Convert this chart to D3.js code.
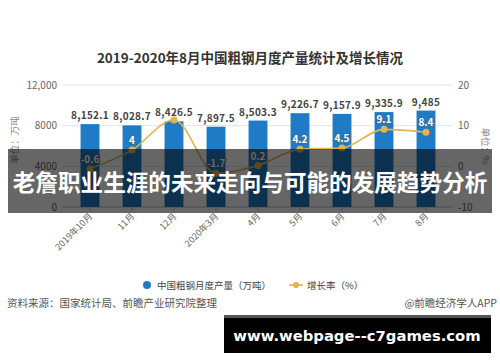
<!DOCTYPE html>
<html>
<head>
<meta charset="utf-8">
<script src="https://cdn.jsdelivr.net/npm/d3@7/dist/d3.min.js"></script>
<style>
  body { margin: 0; background: #fff; }
  svg { display: block; font-family: "Noto Sans CJK SC", "Noto Sans", sans-serif; }
</style>
</head>
<body>
<div id="chart"></div>
<script>
// data
var months = ['2019年10月', '11月', '12月', '2020年3月', '4月', '5月', '6月', '7月', '8月'];
var output = [8152.1, 8028.7, 8426.5, 7897.5, 8503.3, 9226.7, 9157.9, 9335.9, 9485];
var growth = [-0.6, 4, 11.4, -1.7, 0.2, 4.2, 4.5, 9.1, 8.4];
var leftTicks = [0, 4000, 8000, 12000];
var rightTicks = [-10, 0, 10, 20];

var width = 500, height = 362;

var svg = d3.select('#chart').append('svg')
  .attr('width', width)
  .attr('height', height);

var x = d3.scaleBand()
  .domain(months)
  .range([69, 447])
  .paddingInner(0.55)
  .paddingOuter(0.275);

var yL = d3.scaleLinear().domain([0, 12000]).range([207, 85]);
var yR = d3.scaleLinear().domain([-10, 20]).range([207, 85]);

// title
svg.append('text')
  .attr('x', 250).attr('y', 63)
  .attr('text-anchor', 'middle')
  .style('font-size', '13.5px').style('font-weight', 'bold')
  .attr('fill', '#333')
  .text('2019-2020年8月中国粗钢月度产量统计及增长情况');

// gridlines
svg.append('g').selectAll('line')
  .data(leftTicks)
  .enter().append('line')
    .attr('x1', 62).attr('x2', 452)
    .attr('y1', d => yL(d)).attr('y2', d => yL(d))
    .attr('stroke', d => d === 0 ? '#bbb' : '#e3e3e3');

// left axis labels
svg.append('g').selectAll('text')
  .data(leftTicks)
  .enter().append('text')
    .attr('x', 57).attr('y', d => yL(d) + 3.5)
    .attr('text-anchor', 'end')
    .style('font-size', '10px')
    .attr('fill', '#666')
    .text(d => d === 12000 ? '12,000' : d);

// right axis labels
svg.append('g').selectAll('text')
  .data(rightTicks)
  .enter().append('text')
    .attr('x', 458).attr('y', d => yR(d) + 3.5)
    .style('font-size', '10px')
    .attr('fill', '#666')
    .text(d => d);

svg.append('text')
  .attr('transform', 'translate(18,140) rotate(-90)')
  .attr('text-anchor', 'middle')
  .style('font-size', '9.5px').attr('fill', '#888')
  .text('单位：万吨');

svg.append('text')
  .attr('transform', 'translate(482,146) rotate(90)')
  .attr('text-anchor', 'middle')
  .style('font-size', '9.5px').attr('fill', '#888')
  .text('单位：%');

// bars
svg.append('g').selectAll('rect')
  .data(output)
  .enter().append('rect')
    .attr('x', (d, i) => x(months[i]))
    .attr('width', x.bandwidth())
    .attr('y', d => yL(d))
    .attr('height', d => yL(0) - yL(d))
    .attr('fill', '#1f7bc6');

svg.append('g').selectAll('text')
  .data(output)
  .enter().append('text')
    .attr('x', (d, i) => x(months[i]) + x.bandwidth() / 2)
    .attr('y', d => yL(d) - 5)
    .attr('text-anchor', 'middle')
    .style('font-size', '10px').style('font-weight', 'bold')
    .style('letter-spacing', '0.3px')
    .attr('fill', '#444')
    .text(d => d3.format(',')(d));

// x ticks and labels
var cx = m => x(m) + x.bandwidth() / 2;
svg.append('g').selectAll('line')
  .data(months)
  .enter().append('line')
    .attr('x1', cx).attr('x2', cx)
    .attr('y1', 207).attr('y2', 211)
    .attr('stroke', '#bbb');

svg.append('g').selectAll('text')
  .data(months)
  .enter().append('text')
    .attr('transform', d => 'translate(' + (cx(d) + 3) + ',217) rotate(-45)')
    .attr('text-anchor', 'end')
    .style('font-size', '9px')
    .attr('fill', '#666')
    .text(d => d);

// growth line
var line = d3.line()
  .x((d, i) => cx(months[i]))
  .y(d => yR(d))
  .curve(d3.curveMonotoneX);

svg.append('path')
  .datum(growth)
  .attr('d', line)
  .attr('fill', 'none')
  .attr('stroke', '#e2b54a')
  .attr('stroke-width', 1.6);

svg.append('g').selectAll('circle')
  .data(growth)
  .enter().append('circle')
    .attr('cx', (d, i) => cx(months[i]))
    .attr('cy', d => yR(d))
    .attr('r', 3.5)
    .attr('fill', '#e6b443');

// the 12月 label is hidden under the bar label in the original
svg.append('g').selectAll('text')
  .data(growth)
  .enter().filter((d, i) => i !== 2).append('text')
    .attr('x', (d, i) => cx(months[growth.indexOf(d)]))
    .attr('y', d => yR(d) - 6)
    .attr('text-anchor', 'middle')
    .style('font-size', '10px').style('font-weight', 'bold')
    .attr('fill', '#fff')
    .attr('stroke', '#3c6f9c').attr('stroke-width', 2.2)
    .style('paint-order', 'stroke')
    .text(d => d);

// legend
var legend = svg.append('g').attr('transform', 'translate(0,285)');
legend.append('circle').attr('cx', 147).attr('cy', 0).attr('r', 4).attr('fill', '#1f7bc6');
legend.append('text').attr('x', 157).attr('y', 3.5)
  .style('font-size', '9.5px').attr('fill', '#444')
  .text('中国粗钢月度产量（万吨）');
legend.append('line').attr('x1', 289).attr('x2', 303).attr('y1', 0).attr('y2', 0)
  .attr('stroke', '#e2b54a').attr('stroke-width', 1.6);
legend.append('circle').attr('cx', 296).attr('cy', 0).attr('r', 3).attr('fill', '#e6b443');
legend.append('text').attr('x', 307).attr('y', 3.5)
  .style('font-size', '9.5px').attr('fill', '#444')
  .text('增长率（%）');

// footer
svg.append('text').attr('x', 7).attr('y', 307)
  .style('font-size', '10.5px').attr('fill', '#555')
  .text('资料来源：国家统计局、前瞻产业研究院整理');
svg.append('text').attr('x', 497).attr('y', 307)
  .attr('text-anchor', 'end')
  .style('font-size', '10.5px').attr('fill', '#555')
  .text('@前瞻经济学人APP');

// dark caption band over the chart
svg.append('rect')
  .attr('x', 8).attr('y', 149).attr('width', 484).attr('height', 64)
  .attr('fill', 'rgba(0,0,0,0.6)');
svg.append('text')
  .attr('x', 250).attr('y', 191)
  .attr('text-anchor', 'middle')
  .style('font-size', '22.6px').style('font-weight', 'bold')
  .attr('fill', '#fff')
  .text('老詹职业生涯的未来走向与可能的发展趋势分析');

// site badge
svg.append('rect').attr('x', 224).attr('y', 315).attr('width', 267).attr('height', 38).attr('fill', '#000');
svg.append('rect').attr('x', 224).attr('y', 315).attr('width', 267).attr('height', 3).attr('fill', '#555');
svg.append('text')
  .attr('x', 357).attr('y', 341)
  .attr('text-anchor', 'middle')
  .style('font-family', '"DejaVu Sans", sans-serif')
  .style('font-size', '14.8px').style('font-weight', 'bold')
  .attr('fill', '#fff')
  .text('www.webpage--c7games.com');
</script>
</body>
</html>
